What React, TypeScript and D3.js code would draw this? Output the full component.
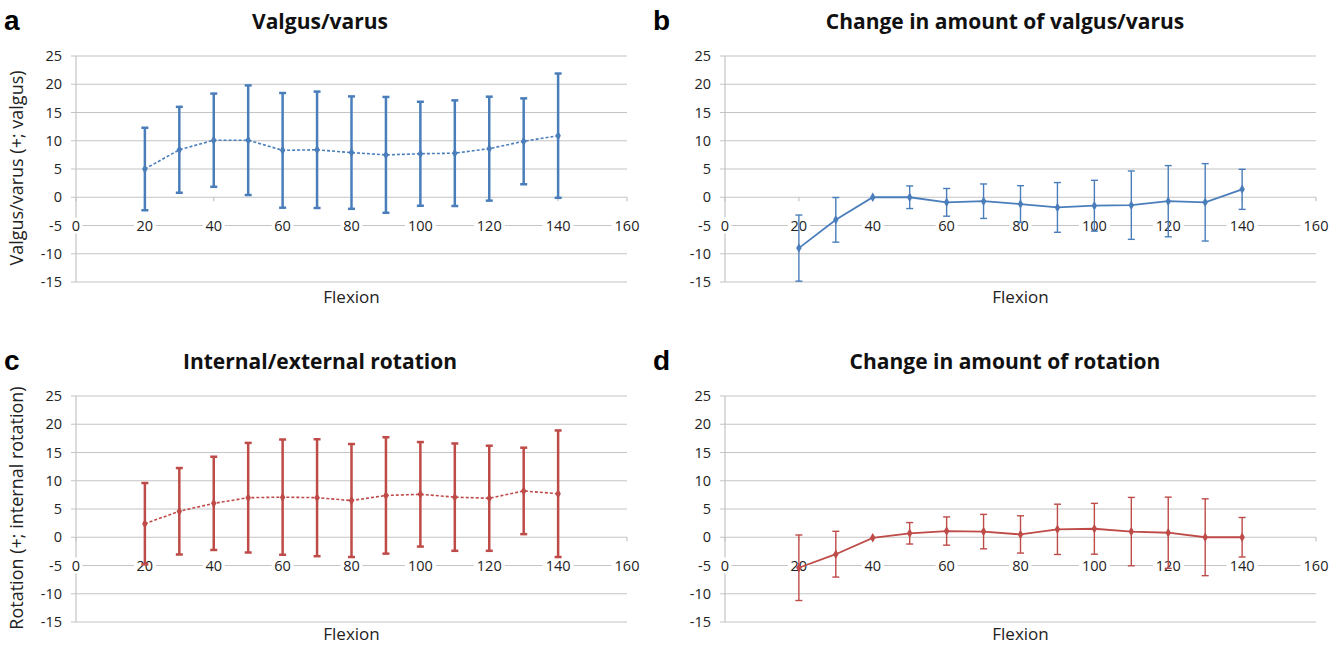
import React from "react";
import * as d3 from "d3";

// flexion angles (x)
const flexion = [20, 30, 40, 50, 60, 70, 80, 90, 100, 110, 120, 130, 140];
const xTicks = [0, 20, 40, 60, 80, 100, 120, 140, 160];
const yTicks = [25, 20, 15, 10, 5, 0, -5, -10, -15];

// a: valgus/varus, mean and SD
const valgusMean = [5.0, 8.4, 10.1, 10.1, 8.3, 8.4, 7.9, 7.5, 7.7, 7.8, 8.6, 9.9, 10.9];
const valgusSd = [7.3, 7.6, 8.25, 9.7, 10.15, 10.3, 9.95, 10.25, 9.2, 9.35, 9.2, 7.6, 11.0];

// b: change in valgus/varus
const valgusChangeMean = [-9.0, -4.0, 0.0, 0.0, -0.9, -0.7, -1.2, -1.8, -1.5, -1.4, -0.7, -0.9, 1.4];
const valgusChangeSd = [5.85, 3.95, 0, 2.0, 2.45, 3.05, 3.25, 4.4, 4.5, 6.05, 6.3, 6.85, 3.55];

// c: internal/external rotation
const rotationMean = [2.4, 4.6, 6.0, 7.0, 7.1, 7.0, 6.5, 7.4, 7.6, 7.1, 6.9, 8.2, 7.7];
const rotationSd = [7.2, 7.65, 8.25, 9.7, 10.2, 10.35, 10.0, 10.3, 9.25, 9.5, 9.3, 7.65, 11.2];

// d: change in rotation
const rotationChangeMean = [-5.4, -3.0, -0.1, 0.7, 1.1, 1.0, 0.5, 1.4, 1.5, 1.0, 0.8, 0.0, 0.0];
const rotationChangeSd = [5.8, 4.05, 0, 1.9, 2.5, 3.05, 3.3, 4.45, 4.5, 6.05, 6.3, 6.8, 3.5];

const BLUE = "#4a7ebb";
const RED = "#be4b48";
const GRID = "#c4c4c4";
const FONT = "'Open Sans', 'Noto Sans', sans-serif";

type PanelProps = {
  letter: string;
  title: string;
  yTitle?: string;
  mean: number[];
  sd: number[];
  color: string;
  dashed: boolean;
  x0: number;
  x1: number;
  top: number;
  titleX: number;
  flexionY: number;
};

const Panel = ({ letter, title, yTitle, mean, sd, color, dashed, x0, x1, top, titleX, flexionY }: PanelProps) => {
  const x = d3.scaleLinear().domain([0, 160]).range([x0, x1]);
  const y = d3.scaleLinear().domain([25, -15]).range([top, top + 226]);
  const pts = flexion.map((f, i) => ({ f, m: mean[i], s: sd[i] }));
  const line = d3
    .line<{ f: number; m: number }>()
    .x((d) => x(d.f))
    .y((d) => y(d.m));
  const thick = dashed ? 2.5 : 1.4;
  const cap = 3.5;
  const diamond = d3.symbol().type(d3.symbolDiamond).size(26)();

  return (
    <g>
      <text x={x0 - 72} y={top - 26} fontFamily="'Liberation Sans', Arial, sans-serif" fontWeight="bold" fontSize={28}>
        {letter}
      </text>
      <text x={titleX} y={top - 27} textAnchor="middle" fontFamily={FONT} fontWeight="bold" fontSize={21} fill="#111">
        {title}
      </text>

      {/* horizontal gridlines */}
      {yTicks.map((t) => (
        <g key={t}>
          <line x1={x0 - 5} x2={x1} y1={y(t)} y2={y(t)} stroke={GRID} strokeWidth={1.2} />
          <text x={x0 - 14} y={y(t)} dy="0.35em" textAnchor="end" fontFamily={FONT} fontSize={14.5} fill="#222">
            {t}
          </text>
        </g>
      ))}
      <line x1={x0} x2={x0} y1={y(25)} y2={y(-15)} stroke={GRID} strokeWidth={1.2} />
      {/* x-axis ticks at zero line */}
      {xTicks.map((t) => (
        <line key={t} x1={x(t)} x2={x(t)} y1={y(0)} y2={y(0) + 4} stroke={GRID} strokeWidth={1.2} />
      ))}
      {/* x tick labels sit on the -5 gridline */}
      {xTicks.map((t) => {
        const w = String(t).length * 9 + 4;
        return (
          <g key={"l" + t}>
            <rect x={x(t) - w / 2} y={y(-5) - 8} width={w} height={16} fill="#fff" />
            <text x={x(t)} y={y(-5)} dy="0.35em" textAnchor="middle" fontFamily={FONT} fontSize={14.5} fill="#222">
              {t}
            </text>
          </g>
        );
      })}

      {/* error bars */}
      {pts
        .filter((p) => p.s > 0)
        .map((p) => (
          <g key={"e" + p.f} stroke={color} strokeWidth={thick}>
            <line x1={x(p.f)} x2={x(p.f)} y1={y(p.m + p.s)} y2={y(p.m - p.s)} />
            <line x1={x(p.f) - cap} x2={x(p.f) + cap} y1={y(p.m + p.s)} y2={y(p.m + p.s)} />
            <line x1={x(p.f) - cap} x2={x(p.f) + cap} y1={y(p.m - p.s)} y2={y(p.m - p.s)} />
          </g>
        ))}
      <path
        d={line(pts) ?? ""}
        fill="none"
        stroke={color}
        strokeWidth={dashed ? 1.6 : 1.8}
        strokeDasharray={dashed ? "3,2" : undefined}
      />
      {pts.map((p) => (
        <path key={"m" + p.f} d={diamond ?? ""} transform={`translate(${x(p.f)},${y(p.m)})`} fill={color} />
      ))}

      <text x={(x0 + x1) / 2} y={flexionY} textAnchor="middle" fontFamily={FONT} fontSize={17} fill="#222">
        Flexion
      </text>
      {yTitle && (
        <text
          transform={`translate(${x0 - 53},${top + 112}) rotate(-90)`}
          textAnchor="middle"
          fontFamily={FONT}
          fontSize={18}
          fill="#222"
        >
          {yTitle}
        </text>
      )}
    </g>
  );
};

export default function App() {
  return (
    <svg width={1341} height={646} style={{ position: "absolute", left: 0, top: 0, background: "#fff" }}>
      <Panel
        letter="a"
        title="Valgus/varus"
        yTitle="Valgus/varus (+; valgus)"
        mean={valgusMean}
        sd={valgusSd}
        color={BLUE}
        dashed
        x0={76}
        x1={627}
        top={56}
        titleX={320}
        flexionY={303}
      />
      <Panel
        letter="b"
        title="Change in amount of valgus/varus"
        mean={valgusChangeMean}
        sd={valgusChangeSd}
        color={BLUE}
        dashed={false}
        x0={725}
        x1={1316}
        top={56}
        titleX={1005}
        flexionY={303}
      />
      <Panel
        letter="c"
        title="Internal/external rotation"
        yTitle="Rotation (+; internal rotation)"
        mean={rotationMean}
        sd={rotationSd}
        color={RED}
        dashed
        x0={76}
        x1={627}
        top={396}
        titleX={320}
        flexionY={640}
      />
      <Panel
        letter="d"
        title="Change in amount of rotation"
        mean={rotationChangeMean}
        sd={rotationChangeSd}
        color={RED}
        dashed={false}
        x0={725}
        x1={1316}
        top={396}
        titleX={1005}
        flexionY={640}
      />
    </svg>
  );
}
